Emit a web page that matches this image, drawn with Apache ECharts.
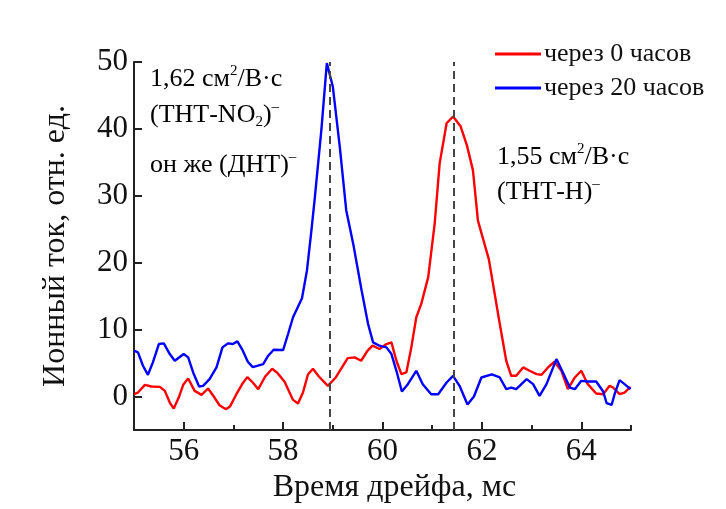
<!DOCTYPE html>
<html>
<head>
<meta charset="utf-8">
<script src="https://cdn.jsdelivr.net/npm/echarts@6/dist/echarts.min.js"></script>
<style>
  html, body { margin: 0; padding: 0; background: #fff; }
  #chart { width: 726px; height: 509px; }
</style>
</head>
<body>
<div id="chart"></div>
<script>
// через 0 часов: [время дрейфа, мс ; ток]
var red0h = [
    [55.0, 0.35], [55.08, 0.6], [55.22, 1.75], [55.35, 1.5], [55.52, 1.45], [55.62, 0.85],
    [55.72, -0.9], [55.8, -1.8], [55.9, -0.15], [55.99, 1.75], [56.09, 2.7], [56.22, 0.85],
    [56.36, 0.25], [56.49, 1.2], [56.62, -0.15], [56.72, -1.3], [56.85, -1.9], [56.93, -1.5],
    [57.06, 0.35], [57.18, 1.9], [57.28, 2.9], [57.39, 2.1], [57.5, 1.1], [57.64, 3.0],
    [57.78, 4.15], [57.89, 3.5], [58.03, 2.2], [58.2, -0.5], [58.3, -1.05], [58.4, 0.6],
    [58.5, 3.3], [58.6, 4.15], [58.72, 3.0], [58.9, 1.6], [59.06, 2.85], [59.3, 5.75],
    [59.44, 5.85], [59.57, 5.35], [59.7, 6.85], [59.8, 7.6], [59.94, 7.1], [60.08, 7.85],
    [60.18, 8.1], [60.28, 5.35], [60.38, 3.35], [60.48, 3.6], [60.58, 7.35], [60.68, 11.85],
    [60.78, 13.85], [60.92, 17.85], [61.05, 25.85], [61.15, 34.85], [61.29, 40.85], [61.42, 41.85],
    [61.57, 40.4], [61.7, 37.5], [61.82, 33.8], [61.92, 26.3], [62.14, 20.5], [62.36, 10.85],
    [62.49, 5.35], [62.59, 3.1], [62.69, 3.1], [62.83, 4.35], [62.96, 3.85], [63.1, 3.35],
    [63.2, 3.25], [63.33, 4.35], [63.46, 5.2], [63.6, 3.85], [63.73, 1.1], [63.87, 2.85],
    [64.0, 3.85], [64.13, 1.85], [64.3, 0.45], [64.44, 0.35], [64.57, 1.6], [64.64, 1.35],
    [64.77, 0.35], [64.87, 0.6], [64.99, 1.45]
];

// через 20 часов
var blue20h = [
    [55.0, 6.85], [55.08, 6.6], [55.18, 4.6], [55.28, 3.25], [55.38, 5.1], [55.5, 7.85],
    [55.6, 7.95], [55.72, 6.35], [55.82, 5.35], [56.0, 6.35], [56.09, 5.85], [56.19, 3.6],
    [56.31, 1.5], [56.39, 1.6], [56.52, 2.6], [56.66, 4.35], [56.78, 7.35], [56.89, 7.95],
    [56.99, 7.85], [57.08, 8.25], [57.19, 6.85], [57.29, 5.2], [57.39, 4.4], [57.6, 4.85],
    [57.7, 6.1], [57.81, 7.0], [58.0, 6.95], [58.1, 9.35], [58.2, 11.85], [58.38, 14.7],
    [58.48, 18.85], [58.57, 24.85], [58.64, 29.85], [58.77, 39.85], [58.88, 49.85], [59.0, 46.35],
    [59.14, 37.35], [59.27, 27.85], [59.41, 22.85], [59.58, 15.85], [59.71, 10.85], [59.81, 8.1],
    [59.94, 7.6], [60.08, 7.35], [60.18, 6.35], [60.28, 3.85], [60.39, 0.75], [60.51, 1.85],
    [60.68, 3.85], [60.81, 1.85], [60.98, 0.35], [61.12, 0.35], [61.29, 2.1], [61.42, 3.1],
    [61.55, 1.6], [61.71, -1.2], [61.84, 0.0], [61.99, 2.85], [62.2, 3.3], [62.36, 2.85],
    [62.49, 1.1], [62.59, 1.35], [62.69, 1.1], [62.9, 2.6], [63.03, 1.85], [63.16, 0.1],
    [63.3, 1.85], [63.5, 5.6], [63.63, 3.6], [63.77, 1.35], [63.87, 1.1], [64.0, 2.35],
    [64.13, 2.25], [64.3, 2.25], [64.44, 0.75], [64.51, -1.0], [64.61, -1.25], [64.67, 0.35],
    [64.77, 2.45], [64.87, 1.85], [64.99, 1.1]
];

var seriesNames = ['через 0 часов', 'через 20 часов'];
var peakTimes = [58.93, 61.43];      // пунктирные линии
var xMajorTicks = [56, 58, 60, 62, 64];
var xMinorTicks = [57, 59, 61, 63, 65];
var yTicks = [0, 10, 20, 30, 40, 50];

var chart = echarts.init(document.getElementById('chart'));

var serif = 'Liberation Serif';
var rich = {
    n: { fontSize: 26, fontFamily: serif, color: '#111', lineHeight: 30 },
    sup: { fontSize: 15, fontFamily: serif, color: '#111', lineHeight: 14, verticalAlign: 'top' },
    sub: { fontSize: 15, fontFamily: serif, color: '#111', lineHeight: 12, verticalAlign: 'bottom' }
};

function note(x, y, text) {
    return {
        type: 'text',
        x: x,
        y: y,
        silent: true,
        style: { text: text, rich: rich, verticalAlign: 'middle', align: 'left' }
    };
}

var option = {
    animation: false,
    backgroundColor: '#fff',
    textStyle: { fontFamily: serif },
    grid: { left: 134, right: 95, top: 62, bottom: 79, containLabel: false, outerBoundsMode: 'none' },
    legend: {
        data: seriesNames,
        orient: 'vertical',
        left: 490,
        top: 36,
        itemWidth: 46,
        itemHeight: 3,
        itemGap: 8,
        icon: 'rect',
        textStyle: { fontSize: 26, color: '#111', fontFamily: serif, padding: [0, 0, 0, -2] }
    },
    xAxis: [{
        type: 'value',
        min: 55,
        max: 65,
        name: 'Время дрейфа, мс',
        nameLocation: 'middle',
        nameGap: 41,
        nameTextStyle: { fontSize: 32, color: '#111', fontFamily: serif, padding: [0, 0, 0, 24] },
        splitLine: { show: false },
        axisLine: { onZero: false, lineStyle: { color: '#222', width: 2 } },
        axisTick: { inside: true, length: 8, customValues: xMajorTicks, lineStyle: { color: '#222', width: 2 } },
        axisLabel: { customValues: xMajorTicks, fontSize: 31, color: '#111', margin: 6 }
    }, {
        type: 'value',
        min: 55,
        max: 65,
        position: 'top',
        offset: -368,
        splitLine: { show: false },
        axisLine: { show: false, onZero: false },
        axisTick: { inside: false, length: 5, customValues: xMinorTicks, lineStyle: { color: '#222', width: 2 } },
        axisLabel: { show: false }
    }],
    yAxis: {
        type: 'value',
        min: -5,
        max: 50,
        name: 'Ионный ток, отн. ед.',
        nameLocation: 'middle',
        nameGap: 62,
        nameTextStyle: { fontSize: 32, color: '#111', fontFamily: serif },
        splitLine: { show: false },
        axisLine: { show: true, onZero: false, lineStyle: { color: '#222', width: 2 } },
        axisTick: { inside: true, length: 8, customValues: yTicks, lineStyle: { color: '#222', width: 2 } },
        axisLabel: { customValues: yTicks, fontSize: 31, color: '#111', margin: 6 }
    },
    series: [{
        name: seriesNames[0],
        type: 'line',
        data: red0h,
        showSymbol: false,
        symbol: 'none',
        lineStyle: { color: '#ff0000', width: 2.4 },
        itemStyle: { color: '#ff0000' },
        markLine: {
            silent: true,
            symbol: 'none',
            label: { show: false },
            lineStyle: { color: '#444', width: 2, type: [8, 5] },
            data: peakTimes.map(function (t) { return { xAxis: t }; })
        }
    }, {
        name: seriesNames[1],
        type: 'line',
        data: blue20h,
        showSymbol: false,
        symbol: 'none',
        lineStyle: { color: '#0000ff', width: 2.4 },
        itemStyle: { color: '#0000ff' }
    }],
    graphic: [
        note(150, 79, '{n|1,62 см}{sup|2}{n|/В·с}'),
        note(150, 115, '{n|(ТНТ-NO}{sub|2}{n|)}{sup|–}'),
        note(150, 165, '{n|он же (ДНТ)}{sup|–}'),
        note(497, 157, '{n|1,55 см}{sup|2}{n|/В·с}'),
        note(497, 192, '{n|(ТНТ-Н)}{sup|–}')
    ]
};

chart.setOption(option);
</script>
</body>
</html>
